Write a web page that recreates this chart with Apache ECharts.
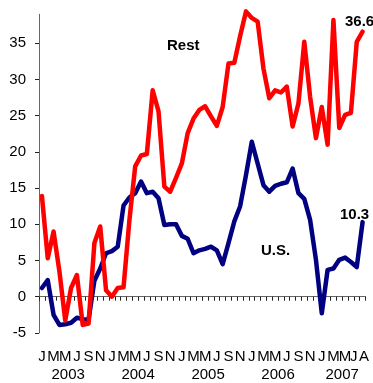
<!DOCTYPE html>
<html>
<head>
<meta charset="utf-8">
<style>
  html, body { margin: 0; padding: 0; background: #fff; }
  #chart { width: 373px; height: 383px; }
</style>
<script src="https://cdn.jsdelivr.net/npm/echarts@6/dist/echarts.min.js"></script>
</head>
<body>
<div id="chart"></div>
<script>
// month letters and years on the axis
const monthLetters = ['J', 'F', 'M', 'A', 'M', 'J', 'J', 'A', 'S', 'O', 'N', 'D']
const years = ['2003', '2004', '2005', '2006', '2007']
const lastYearMonths = 8 // data runs to Aug 2007

// Rest of world, % y/y
const rest = [13.9, 5.3, 9.0, 3.5, -3.3, 1.2, 3.0, -3.9, -3.7, 7.4, 9.7, 0.9,
  0.0, 1.2, 1.3, 10.5, 18.0, 19.5, 19.7, 28.5, 25.6, 15.2, 14.5, 16.4,
  18.4, 22.6, 24.6, 25.8, 26.3, 24.9, 23.6, 26.2, 32.2, 32.3, 36.0, 39.4,
  38.5, 38.0, 31.5, 27.4, 28.5, 28.2, 29.0, 23.5, 26.7, 35.2, 27.6, 21.9,
  26.2, 21.0, 38.2, 23.3, 25.1, 25.4, 35.2, 36.6]

// U.S., % y/y
const us = [1.2, 2.3, -2.5, -3.9, -3.8, -3.6, -2.9, -3.1, -3.2, 2.2, 3.9, 6.0,
  6.3, 6.9, 12.6, 13.7, 14.3, 15.9, 14.3, 14.5, 13.6, 9.9, 10.0, 10.0,
  8.4, 8.0, 6.0, 6.4, 6.6, 6.9, 6.4, 4.5, 7.4, 10.4, 12.5, 16.8,
  21.4, 18.4, 15.4, 14.5, 15.3, 15.6, 15.8, 17.7, 14.3, 13.5, 10.6, 5.1,
  -2.3, 3.7, 3.9, 5.1, 5.4, 4.8, 4.1, 10.3]

// categories Jan 2003 .. Aug 2007
let categories = []
years.forEach((y, yi) => {
  let n = yi === years.length - 1 ? lastYearMonths : 12
  for (let m = 0; m < n; m++) categories.push(monthLetters[m] + ' ' + y)
})
const nCat = categories.length

// month letter labels: every other month, last two squeezed like the original
let monthLabelAt = {}
for (let i = 0; i < nCat - 2; i += 2) {
  monthLabelAt[Math.round((i + 0.5) * 4)] = monthLetters[i % 12]
}
monthLabelAt[Math.round((nCat - 2) * 4)] = monthLetters[(nCat - 2) % 12]
monthLabelAt[Math.round((nCat - 0.25) * 4)] = monthLetters[(nCat - 1) % 12]

// year labels
let yearLabelAt = {}
years.forEach((y, yi) => {
  let n = yi === years.length - 1 ? lastYearMonths : 12
  yearLabelAt[yi * 12 + Math.min(5, n / 2)] = y
})

const font = 'Liberation Sans, Arial, sans-serif'

let myChart = echarts.init(document.getElementById('chart'))
let option = {
  animation: false,
  grid: { left: 39, right: 7.5, top: 14.3, bottom: 50.1 },
  xAxis: [{
    type: 'category',
    data: categories,
    boundaryGap: true,
    axisLine: { onZero: true, lineStyle: { color: '#666', width: 1 } },
    axisTick: { show: true, interval: 0, length: 4, lineStyle: { color: '#222' } },
    axisLabel: { show: false },
    splitLine: { show: false }
  }, {
    type: 'value',
    min: 0,
    max: nCat,
    interval: 0.25,
    position: 'bottom',
    axisLine: { show: false, onZero: false },
    axisTick: { show: false },
    splitLine: { show: false },
    axisLabel: {
      margin: 16,
      fontFamily: font,
      fontSize: 15,
      lineHeight: 15,
      color: '#000',
      showMinLabel: true,
      showMaxLabel: true,
      formatter: v => monthLabelAt[Math.round(v * 4)] || ''
    }
  }, {
    type: 'value',
    min: 0,
    max: nCat,
    interval: 1,
    position: 'bottom',
    axisLine: { show: false, onZero: false },
    axisTick: { show: false },
    splitLine: { show: false },
    axisLabel: {
      margin: 34.5,
      fontFamily: font,
      fontSize: 15,
      lineHeight: 15,
      color: '#000',
      formatter: v => yearLabelAt[Math.round(v)] || ''
    }
  }],
  yAxis: {
    type: 'value',
    min: -5,
    max: 39,
    interval: 5,
    axisLine: { show: true, lineStyle: { color: '#666', width: 1 } },
    axisTick: { show: true, length: 4, lineStyle: { color: '#222' } },
    splitLine: { show: false },
    axisLabel: {
      showMaxLabel: false,
      margin: 13,
      fontFamily: font,
      fontSize: 15,
      color: '#000'
    }
  },
  series: [{
    name: 'U.S.',
    type: 'line',
    data: us,
    showSymbol: false,
    clip: false,
    lineStyle: { color: '#000080', width: 4.5, join: 'round', cap: 'round' },
    endLabel: {
      show: true,
      formatter: p => p.value.toFixed(1),
      align: 'center',
      verticalAlign: 'bottom',
      distance: 0,
      offset: [-8, 0],
      fontFamily: font,
      fontSize: 15,
      fontWeight: 'bold',
      color: '#000'
    },
    z: 2
  }, {
    name: 'Rest',
    type: 'line',
    data: rest,
    showSymbol: false,
    clip: false,
    lineStyle: { color: '#ff0000', width: 4.5, join: 'round', cap: 'round' },
    endLabel: {
      show: true,
      formatter: p => p.value.toFixed(1),
      align: 'center',
      verticalAlign: 'bottom',
      distance: 0,
      offset: [-3, -2],
      fontFamily: font,
      fontSize: 15,
      fontWeight: 'bold',
      color: '#000'
    },
    z: 3
  }],
  graphic: [{
    type: 'text', left: 167, top: 38,
    style: { text: 'Rest', font: 'bold 15px ' + font, fill: '#000' }
  }, {
    type: 'text', left: 261, top: 243,
    style: { text: 'U.S.', font: 'bold 15px ' + font, fill: '#000' }
  }]
}
myChart.setOption(option)
window.addEventListener('resize', function () {
  myChart.resize()
})
</script>
</body>
</html>
